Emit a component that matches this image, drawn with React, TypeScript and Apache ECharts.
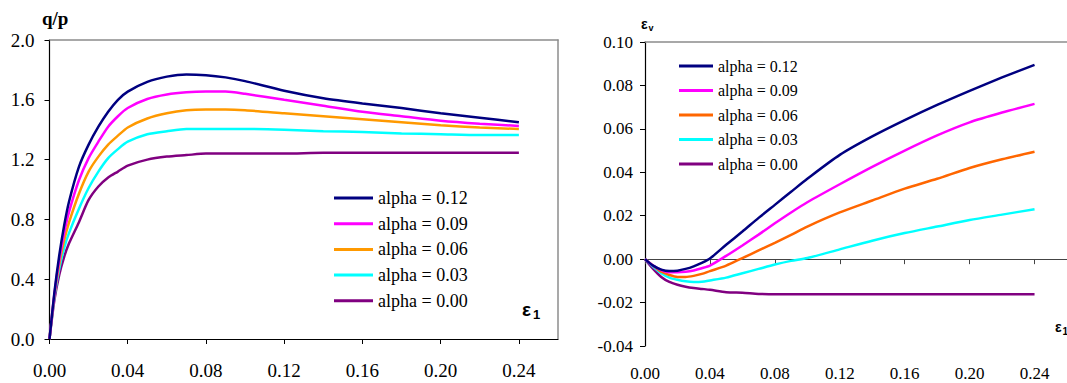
import React, { useEffect, useRef } from "react";
import * as echarts from "echarts";

// ---------- data ----------
const seriesNames = ["alpha = 0.12", "alpha = 0.09", "alpha = 0.06", "alpha = 0.03", "alpha = 0.00"];
const leftColors = ["#000080", "#FF00FF", "#FF9900", "#00FFFF", "#800080"];
const rightColors = ["#000080", "#FF00FF", "#FF6600", "#00FFFF", "#800080"];

const xTicks = [0, 0.04, 0.08, 0.12, 0.16, 0.2, 0.24];

// left chart: q/p vs eps1
const eps1Left = [0, 0.0025, 0.005, 0.0075, 0.01, 0.015, 0.02, 0.025, 0.03, 0.035, 0.04, 0.05, 0.06, 0.07, 0.08, 0.09, 0.1, 0.12, 0.14, 0.16, 0.18, 0.2, 0.22, 0.24];
const qp012 = [0, 0.31, 0.56, 0.76, 0.92, 1.15, 1.3, 1.42, 1.52, 1.6, 1.655, 1.72, 1.755, 1.77, 1.765, 1.75, 1.725, 1.66, 1.61, 1.575, 1.545, 1.51, 1.48, 1.45];
const qp009 = [0, 0.3, 0.53, 0.71, 0.85, 1.06, 1.21, 1.32, 1.42, 1.49, 1.545, 1.605, 1.635, 1.65, 1.655, 1.655, 1.64, 1.6, 1.56, 1.52, 1.49, 1.46, 1.44, 1.425];
const qp006 = [0, 0.29, 0.5, 0.66, 0.78, 0.97, 1.12, 1.22, 1.3, 1.36, 1.415, 1.475, 1.51, 1.53, 1.535, 1.535, 1.53, 1.51, 1.49, 1.47, 1.45, 1.43, 1.415, 1.405];
const qp003 = [0, 0.28, 0.47, 0.61, 0.71, 0.87, 1.01, 1.12, 1.21, 1.27, 1.32, 1.37, 1.39, 1.405, 1.405, 1.405, 1.405, 1.4, 1.39, 1.385, 1.375, 1.37, 1.365, 1.365];
const qp000 = [0, 0.26, 0.43, 0.55, 0.64, 0.78, 0.93, 1.02, 1.08, 1.12, 1.16, 1.2, 1.22, 1.23, 1.24, 1.24, 1.24, 1.24, 1.245, 1.245, 1.245, 1.245, 1.245, 1.245];

// right chart: eps_v vs eps1
const eps1Right = [0, 0.005, 0.01, 0.015, 0.02, 0.025, 0.03, 0.035, 0.04, 0.05, 0.06, 0.07, 0.08, 0.09, 0.1, 0.12, 0.14, 0.16, 0.18, 0.2, 0.22, 0.24];
const ev012 = [0, -0.003, -0.0048, -0.0055, -0.0053, -0.0045, -0.0033, -0.0017, 0.0003, 0.0066, 0.0127, 0.019, 0.025, 0.031, 0.037, 0.048, 0.0565, 0.064, 0.071, 0.0775, 0.0837, 0.0895];
const ev009 = [0, -0.003, -0.005, -0.006, -0.006, -0.0058, -0.0052, -0.0042, -0.003, 0.0015, 0.0063, 0.0113, 0.0165, 0.0215, 0.0262, 0.0345, 0.0425, 0.05, 0.057, 0.063, 0.0675, 0.0715];
const ev006 = [0, -0.003, -0.0058, -0.0073, -0.0082, -0.0082, -0.0077, -0.0068, -0.0055, -0.003, 0.0005, 0.004, 0.0075, 0.0112, 0.015, 0.0215, 0.027, 0.0325, 0.037, 0.042, 0.046, 0.0495];
const ev003 = [0, -0.0035, -0.0065, -0.0085, -0.0095, -0.0102, -0.0105, -0.0104, -0.0098, -0.0085, -0.0065, -0.0045, -0.0025, -0.0008, 0.0005, 0.0045, 0.0085, 0.012, 0.015, 0.018, 0.0205, 0.023];
const ev000 = [0, -0.0045, -0.0082, -0.0105, -0.0118, -0.0127, -0.0133, -0.0137, -0.0141, -0.0152, -0.0155, -0.016, -0.0162, -0.0162, -0.0162, -0.0162, -0.0162, -0.0162, -0.0162, -0.0162, -0.0162, -0.0162];

const leftValues = [qp012, qp009, qp006, qp003, qp000];
const rightValues = [ev012, ev009, ev006, ev003, ev000];

const SERIF = "Liberation Serif";
const SANS = "Liberation Sans";
const BORDER = "#8c8c8c";

export default function App() {
  const ref = useRef<HTMLDivElement>(null);

  useEffect(() => {
    if (!ref.current) return;
    const chart = echarts.init(ref.current, undefined, { renderer: "svg" });

    const hiddenAxisBits = {
      axisTick: { show: false },
      axisLabel: { show: false },
      splitLine: { show: false },
    };

    const option: any = {
      animation: false,
      backgroundColor: "#ffffff",
      textStyle: { fontFamily: SERIF },
      grid: [
        { left: 49.5, top: 40, width: 508.5, height: 299 },
        { left: 645, top: 42, width: 434, height: 304 },
      ],
      xAxis: [
        {
          gridIndex: 0, type: "value", min: 0, max: 0.26, interval: 0.04, position: "bottom",
          axisLine: { show: true, onZero: false, lineStyle: { color: "#000", width: 1 } },
          axisTick: { show: true, inside: false, length: 5, lineStyle: { color: "#000" }, customValues: xTicks },
          axisLabel: { show: true, margin: 22, fontFamily: SERIF, fontSize: 19, color: "#000", customValues: xTicks, formatter: (v: number) => v.toFixed(2) },
          splitLine: { show: false },
        },
        {
          gridIndex: 0, type: "value", min: 0, max: 0.26, position: "top",
          axisLine: { show: true, onZero: false, lineStyle: { color: BORDER, width: 1.5 } },
          ...hiddenAxisBits,
        },
        {
          gridIndex: 1, type: "value", min: 0, max: 0.26, interval: 0.04, position: "bottom",
          axisLine: { show: false, onZero: false },
          axisTick: { show: false },
          axisLabel: { show: true, margin: 19, fontFamily: SERIF, fontSize: 17, color: "#000", customValues: xTicks, formatter: (v: number) => v.toFixed(2) },
          splitLine: { show: false },
        },
        {
          gridIndex: 1, type: "value", min: 0, max: 0.26, interval: 0.04, position: "bottom",
          axisLine: { show: true, onZero: true, onZeroAxisIndex: 2, lineStyle: { color: "#444", width: 1 } },
          axisTick: { show: true, inside: false, length: 5, lineStyle: { color: "#444" }, customValues: xTicks },
          axisLabel: { show: false },
          splitLine: { show: false },
        },
        {
          gridIndex: 1, type: "value", min: 0, max: 0.26, position: "top",
          axisLine: { show: true, onZero: false, lineStyle: { color: BORDER, width: 1.5 } },
          ...hiddenAxisBits,
        },
      ],
      yAxis: [
        {
          gridIndex: 0, type: "value", min: 0, max: 2, interval: 0.4, position: "left",
          axisLine: { show: true, onZero: false, lineStyle: { color: "#000", width: 1.2 } },
          axisTick: { show: true, inside: false, length: 5, lineStyle: { color: "#000" } },
          axisLabel: { show: true, margin: 15, fontFamily: SERIF, fontSize: 19, color: "#000", formatter: (v: number) => v.toFixed(1) },
          splitLine: { show: false },
        },
        {
          gridIndex: 0, type: "value", min: 0, max: 2, position: "right",
          axisLine: { show: true, onZero: false, lineStyle: { color: BORDER, width: 1.5 } },
          ...hiddenAxisBits,
        },
        {
          gridIndex: 1, type: "value", min: -0.04, max: 0.1, interval: 0.02, position: "left",
          axisLine: { show: true, onZero: false, lineStyle: { color: "#000", width: 1.2 } },
          axisTick: { show: true, inside: false, length: 5, lineStyle: { color: "#000" } },
          axisLabel: { show: true, margin: 12, fontFamily: SERIF, fontSize: 17, color: "#000", formatter: (v: number) => v.toFixed(2) },
          splitLine: { show: false },
        },
      ],
      legend: [
        {
          orient: "vertical", left: 329, top: 183, itemWidth: 39, itemHeight: 3, itemGap: 5.7,
          icon: "rect", selectedMode: false,
          textStyle: { fontFamily: SERIF, fontSize: 18, color: "#000", lineHeight: 20 },
          data: seriesNames.map((n, i) => ({ name: n, itemStyle: { color: leftColors[i] } })),
        },
        {
          orient: "vertical", left: 674, top: 52, itemWidth: 34, itemHeight: 3, itemGap: 6.5,
          icon: "rect", selectedMode: false,
          textStyle: { fontFamily: SERIF, fontSize: 16, color: "#000", lineHeight: 18 },
          data: seriesNames.map((n, i) => ({ name: n, itemStyle: { color: rightColors[i] } })),
        },
      ],
      series: [
        ...seriesNames.map((n, i) => ({
          name: n, type: "line", xAxisIndex: 0, yAxisIndex: 0, symbol: "none", smooth: 0.25,
          lineStyle: { color: leftColors[i], width: 2.5 }, itemStyle: { color: leftColors[i] },
          data: eps1Left.map((x, k) => [x, leftValues[i][k]]),
          z: 10 - i,
        })),
        ...seriesNames.map((n, i) => ({
          name: n, type: "line", xAxisIndex: 2, yAxisIndex: 2, symbol: "none", smooth: 0.25,
          lineStyle: { color: rightColors[i], width: 2.5 }, itemStyle: { color: rightColors[i] },
          data: eps1Right.map((x, k) => [x, rightValues[i][k]]),
          z: 10 - i,
        })),
      ],
      graphic: [
        { type: "text", left: 42, top: 9, style: { text: "q/p", fontFamily: SERIF, fontWeight: "bold", fontSize: 19, fill: "#000" } },
        { type: "text", left: 522, top: 300, style: { text: "ε", fontFamily: SANS, fontWeight: "bold", fontSize: 19, fill: "#000" } },
        { type: "text", left: 533, top: 308, style: { text: "1", fontFamily: SANS, fontWeight: "bold", fontSize: 13, fill: "#000" } },
        { type: "text", left: 641, top: 16.5, style: { text: "ε", fontFamily: SANS, fontWeight: "bold", fontSize: 14, fill: "#000" } },
        { type: "text", left: 648.5, top: 23.5, style: { text: "v", fontFamily: SANS, fontWeight: "bold", fontSize: 9, fill: "#000" } },
        { type: "text", left: 1055, top: 319.5, style: { text: "ε", fontFamily: SANS, fontWeight: "bold", fontSize: 14, fill: "#000" } },
        { type: "text", left: 1062.5, top: 326, style: { text: "1", fontFamily: SANS, fontWeight: "bold", fontSize: 10, fill: "#000" } },
      ],
    };

    chart.setOption(option);
    return () => chart.dispose();
  }, []);

  return (
    <div
      ref={ref}
      style={{ position: "absolute", left: 0, top: 0, width: 1067, height: 383, background: "#fff" }}
    />
  );
}
